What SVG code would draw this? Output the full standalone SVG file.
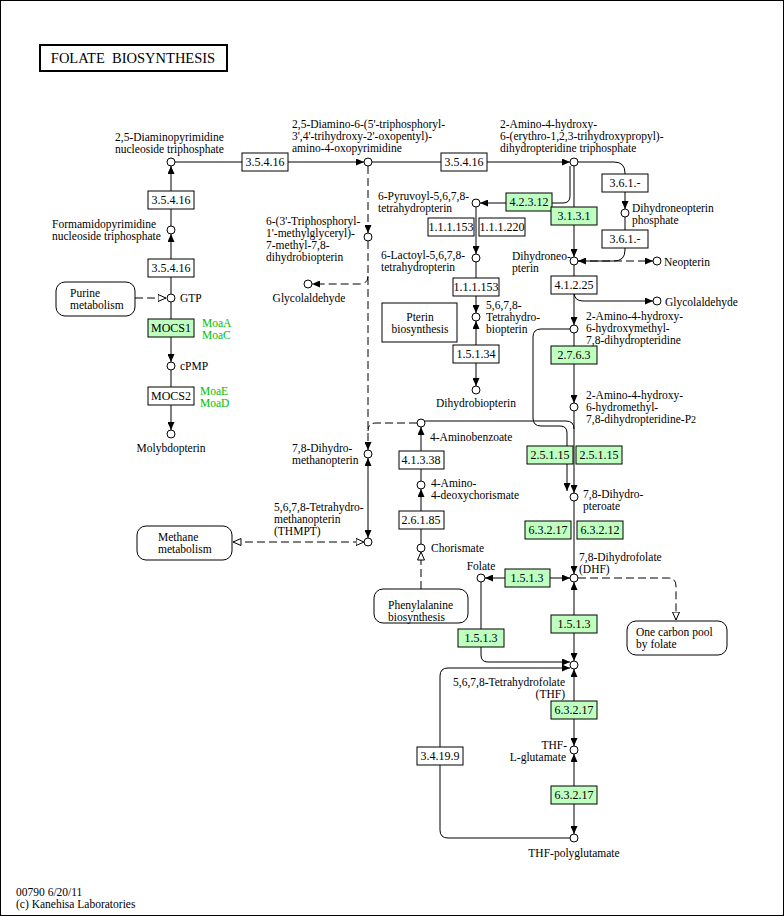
<svg xmlns="http://www.w3.org/2000/svg" width="784" height="916" viewBox="0 0 784 916">
<style>
text{font-family:"Liberation Serif","Times New Roman",serif;font-size:11.5px;fill:#000}
.c{text-anchor:middle}
.r{text-anchor:end}
.gt{fill:#00c000}
.l{fill:none;stroke:#000;stroke-width:1}
.d{stroke-dasharray:8,4}
.n{fill:#fff;stroke:#000;stroke-width:1}
.e{fill:#fff;stroke:#000;stroke-width:1}
.g{fill:#bfffbf}
.m{fill:#fff;stroke:#000;stroke-width:1}
.et{font-size:12px}
</style>
<defs>
<marker id="a" viewBox="0 0 8 7" refX="8" refY="3.5" markerWidth="8" markerHeight="7" markerUnits="userSpaceOnUse" orient="auto-start-reverse"><path d="M0,0 L8,3.5 L0,7 z" fill="#000"/></marker>
<marker id="o" viewBox="0 0 9 8" refX="8.5" refY="4" markerWidth="9" markerHeight="8" markerUnits="userSpaceOnUse" orient="auto-start-reverse"><path d="M0.5,0.5 L8.5,4 L0.5,7.5 z" fill="#fff" stroke="#000" stroke-width="1"/></marker>
</defs>
<rect x="0.5" y="0.5" width="783" height="915" fill="#fff" stroke="#000"/>
<g id="title"><rect x="40" y="45" width="187" height="26" fill="#fff" stroke="#000" stroke-width="2"/><text x="133" y="63" class="c" style="font-size:14.5px" xml:space="preserve">FOLATE  BIOSYNTHESIS</text></g>

<g id="connectors">
<path class="l" d="M175,162 H364" marker-end="url(#a)"/>
<path class="l" d="M171,226 V166" marker-end="url(#a)"/>
<path class="l" d="M171,294 V234" marker-end="url(#a)"/>
<path class="l d" d="M135,298 H166" marker-end="url(#o)"/>
<path class="l" d="M171,302 V362" marker-end="url(#a)"/>
<path class="l" d="M171,370 V430" marker-end="url(#a)"/>
<path class="l d" d="M368,166 V233" marker-end="url(#a)"/>
<path class="l d" d="M368,241 V450" marker-end="url(#a)"/>
<path class="l d" d="M368,276 Q368,284 360,284 H312" marker-end="url(#a)"/>
<path class="l d" d="M417,423 H376 Q368,423 368,431"/>
<path class="l" d="M368,458 V538" marker-start="url(#a)" marker-end="url(#a)"/>
<path class="l d" d="M233,542 H364" marker-start="url(#o)" marker-end="url(#o)"/>
<path class="l" d="M372,162 H570" marker-end="url(#a)"/>
<path class="l" d="M570,166 V196 Q570,203 563,203 H480" marker-end="url(#a)"/>
<path class="l" d="M574,166 V257" marker-end="url(#a)"/>
<path class="l" d="M578,162 H614 Q625,162 625,173 V209" marker-end="url(#a)"/>
<path class="l" d="M625,217 V250 Q625,261 614,261 H578" marker-end="url(#a)"/>
<path class="l d" d="M578,261 H653" marker-end="url(#a)"/>
<path class="l" d="M574,265 V325" marker-end="url(#a)"/>
<path class="l" d="M574,292 Q574,301 583,301 H653" marker-end="url(#a)"/>
<path class="l" d="M574,333 V403" marker-end="url(#a)"/>
<path class="l" d="M574,411 V493" marker-end="url(#a)"/>
<path class="l" d="M425,421 H566 Q574,421 574,429"/>
<path class="l" d="M570,329 H541 Q533,329 533,337 V418 Q533,426 541,426 H560 Q567,426 567,433 V491" marker-end="url(#a)"/>
<path class="l" d="M476,207 V254" marker-end="url(#a)"/>
<path class="l" d="M476,262 V313" marker-end="url(#a)"/>
<path class="l" d="M476,321 V386" marker-start="url(#a)" marker-end="url(#a)"/>
<path class="l" d="M421,481 V427" marker-end="url(#a)"/>
<path class="l" d="M421,544 V489" marker-end="url(#a)"/>
<path class="l d" d="M421,589 V552" marker-end="url(#o)"/>
<path class="l" d="M574,501 V574" marker-end="url(#a)"/>
<path class="l" d="M485,578 H570" marker-start="url(#a)" marker-end="url(#a)"/>
<path class="l d" d="M578,578 H668 Q676,578 676,586 V620" marker-end="url(#o)"/>
<path class="l" d="M574,582 V661" marker-start="url(#a)" marker-end="url(#a)"/>
<path class="l" d="M481,582 V655 Q481,662 488,662 H570" marker-end="url(#a)"/>
<path class="l" d="M570,838 H448 Q440,838 440,830 V676 Q440,668 448,668 H570" marker-end="url(#a)"/>
<path class="l" d="M574,669 V746" marker-start="url(#a)" marker-end="url(#a)"/>
<path class="l" d="M574,754 V834" marker-start="url(#a)" marker-end="url(#a)"/>
</g>

<g id="maps">
<g id="map-purine"><rect class="m" x="56" y="282" width="79" height="34" rx="9"/><text x="70" y="297">Purine</text><text x="70" y="309">metabolism</text></g>
<g id="map-methane"><rect class="m" x="137" y="526" width="95" height="34" rx="9"/><text x="158" y="541">Methane</text><text x="158" y="553">metabolism</text></g>
<g id="map-pterin"><rect class="m" x="382" y="303" width="75" height="39"/><text x="420" y="321" class="c">Pterin</text><text x="420" y="333" class="c">biosynthesis</text></g>
<g id="map-phe"><rect class="m" x="374" y="589" width="94" height="34" rx="9"/><text x="388" y="609">Phenylalanine</text><text x="388" y="621">biosynthesis</text></g>
<g id="map-onecarbon"><rect class="m" x="627" y="621" width="100" height="34" rx="9"/><text x="636" y="636">One carbon pool</text><text x="636" y="648">by folate</text></g>
</g>

<g id="enzymes">
<g id="e1"><rect class="e" x="242" y="153" width="46" height="18"/><text x="265" y="166" class="c et">3.5.4.16</text></g>
<g id="e2"><rect class="e" x="441" y="153" width="46" height="18"/><text x="464" y="166" class="c et">3.5.4.16</text></g>
<g id="e3"><rect class="e" x="148" y="191" width="46" height="18"/><text x="171" y="204" class="c et">3.5.4.16</text></g>
<g id="e4"><rect class="e" x="148" y="259" width="46" height="18"/><text x="171" y="272" class="c et">3.5.4.16</text></g>
<g id="e5"><rect class="e g" x="148" y="319" width="46" height="18"/><text x="171" y="332" class="c et">MOCS1</text><text x="202" y="327" class="gt">MoaA</text><text x="202" y="339" class="gt">MoaC</text></g>
<g id="e6"><rect class="e" x="148" y="387" width="46" height="18"/><text x="171" y="400" class="c et">MOCS2</text><text x="200" y="395" class="gt">MoaE</text><text x="200" y="407" class="gt">MoaD</text></g>
<g id="e7"><rect class="e g" x="506" y="193" width="46" height="18"/><text x="529" y="206" class="c et">4.2.3.12</text></g>
<g id="e8"><rect class="e g" x="551" y="207" width="46" height="18"/><text x="574" y="220" class="c et">3.1.3.1</text></g>
<g id="e9"><rect class="e" x="602" y="174" width="46" height="18"/><text x="625" y="187" class="c et">3.6.1.-</text></g>
<g id="e10"><rect class="e" x="602" y="230" width="46" height="18"/><text x="625" y="243" class="c et">3.6.1.-</text></g>
<g id="e11"><rect class="e" x="428" y="218" width="46" height="18"/><text x="451" y="231" class="c et">1.1.1.153</text></g>
<g id="e12"><rect class="e" x="479" y="218" width="46" height="18"/><text x="502" y="231" class="c et">1.1.1.220</text></g>
<g id="e13"><rect class="e" x="453" y="278" width="46" height="18"/><text x="476" y="291" class="c et">1.1.1.153</text></g>
<g id="e14"><rect class="e" x="453" y="345" width="46" height="18"/><text x="476" y="358" class="c et">1.5.1.34</text></g>
<g id="e15"><rect class="e" x="551" y="276" width="46" height="18"/><text x="574" y="289" class="c et">4.1.2.25</text></g>
<g id="e16"><rect class="e g" x="551" y="346" width="46" height="18"/><text x="574" y="359" class="c et">2.7.6.3</text></g>
<g id="e17"><rect class="e g" x="527" y="446" width="46" height="18"/><text x="550" y="459" class="c et">2.5.1.15</text></g>
<g id="e18"><rect class="e g" x="576" y="446" width="46" height="18"/><text x="599" y="459" class="c et">2.5.1.15</text></g>
<g id="e19"><rect class="e" x="399" y="451" width="45" height="18"/><text x="421" y="464" class="c et">4.1.3.38</text></g>
<g id="e20"><rect class="e" x="399" y="511" width="45" height="18"/><text x="421" y="524" class="c et">2.6.1.85</text></g>
<g id="e21"><rect class="e g" x="525" y="521" width="46" height="18"/><text x="548" y="534" class="c et">6.3.2.17</text></g>
<g id="e22"><rect class="e g" x="577" y="521" width="46" height="18"/><text x="600" y="534" class="c et">6.3.2.12</text></g>
<g id="e23"><rect class="e g" x="505" y="569" width="45" height="18"/><text x="527" y="582" class="c et">1.5.1.3</text></g>
<g id="e24"><rect class="e g" x="551" y="615" width="46" height="18"/><text x="574" y="628" class="c et">1.5.1.3</text></g>
<g id="e25"><rect class="e g" x="458" y="629" width="46" height="18"/><text x="481" y="642" class="c et">1.5.1.3</text></g>
<g id="e26"><rect class="e g" x="551" y="701" width="46" height="18"/><text x="574" y="714" class="c et">6.3.2.17</text></g>
<g id="e27"><rect class="e g" x="551" y="786" width="46" height="18"/><text x="574" y="799" class="c et">6.3.2.17</text></g>
<g id="e28"><rect class="e" x="417" y="747" width="46" height="18"/><text x="440" y="760" class="c et">3.4.19.9</text></g>
</g>

<g id="compounds">
<g id="c1"><circle class="n" cx="171" cy="162" r="4"/><text x="115" y="141">2,5-Diaminopyrimidine</text><text x="115" y="153">nucleoside triphosphate</text></g>
<g id="c2"><circle class="n" cx="171" cy="230" r="4"/><text x="52" y="228">Formamidopyrimidine</text><text x="52" y="240">nucleoside triphosphate</text></g>
<g id="c3"><circle class="n" cx="171" cy="298" r="4"/><text x="180" y="302">GTP</text></g>
<g id="c4"><circle class="n" cx="171" cy="366" r="4"/><text x="180" y="370">cPMP</text></g>
<g id="c5"><circle class="n" cx="171" cy="434" r="4"/><text x="171" y="452" class="c">Molybdopterin</text></g>
<g id="c6"><circle class="n" cx="368" cy="162" r="4"/><text x="292" y="128">2,5-Diamino-6-(5'-triphosphoryl-</text><text x="292" y="140">3',4'-trihydroxy-2'-oxopentyl)-</text><text x="292" y="152">amino-4-oxopyrimidine</text></g>
<g id="c7"><circle class="n" cx="368" cy="237" r="4"/><text x="266" y="225">6-(3'-Triphosphoryl-</text><text x="266" y="237">1'-methylglyceryl)-</text><text x="266" y="249">7-methyl-7,8-</text><text x="266" y="261">dihydrobiopterin</text></g>
<g id="c8"><circle class="n" cx="308" cy="284" r="4"/><text x="309" y="302" class="c">Glycolaldehyde</text></g>
<g id="c9"><circle class="n" cx="368" cy="454" r="4"/><text x="292" y="452">7,8-Dihydro-</text><text x="292" y="464">methanopterin</text></g>
<g id="c10"><circle class="n" cx="368" cy="542" r="4"/><text x="274" y="511">5,6,7,8-Tetrahydro-</text><text x="274" y="523">methanopterin</text><text x="274" y="535">(THMPT)</text></g>
<g id="c11"><circle class="n" cx="574" cy="162" r="4"/><text x="500" y="128">2-Amino-4-hydroxy-</text><text x="500" y="140">6-(erythro-1,2,3-trihydroxypropyl)-</text><text x="500" y="152">dihydropteridine triphosphate</text></g>
<g id="c12"><circle class="n" cx="476" cy="203" r="4"/><text x="378" y="200">6-Pyruvoyl-5,6,7,8-</text><text x="378" y="212">tetrahydropterin</text></g>
<g id="c13"><circle class="n" cx="476" cy="258" r="4"/><text x="381" y="259">6-Lactoyl-5,6,7,8-</text><text x="381" y="271">tetrahydropterin</text></g>
<g id="c14"><circle class="n" cx="476" cy="317" r="4"/><text x="486" y="309">5,6,7,8-</text><text x="486" y="321">Tetrahydro-</text><text x="486" y="333">biopterin</text></g>
<g id="c15"><circle class="n" cx="476" cy="390" r="4"/><text x="476" y="407" class="c">Dihydrobiopterin</text></g>
<g id="c16"><circle class="n" cx="625" cy="213" r="4"/><text x="632" y="212">Dihydroneopterin</text><text x="632" y="224">phosphate</text></g>
<g id="c17"><circle class="n" cx="574" cy="261" r="4"/><text x="512" y="260">Dihydroneo-</text><text x="512" y="272">pterin</text></g>
<g id="c18"><circle class="n" cx="657" cy="261" r="4"/><text x="664" y="266">Neopterin</text></g>
<g id="c19"><circle class="n" cx="657" cy="301" r="4"/><text x="665" y="306">Glycolaldehyde</text></g>
<g id="c20"><circle class="n" cx="574" cy="329" r="4"/><text x="586" y="320">2-Amino-4-hydroxy-</text><text x="586" y="332">6-hydroxymethyl-</text><text x="586" y="344">7,8-dihydropteridine</text></g>
<g id="c21"><circle class="n" cx="574" cy="407" r="4"/><text x="586" y="399">2-Amino-4-hydroxy-</text><text x="586" y="411">6-hydromethyl-</text><text x="586" y="423">7,8-dihydropteridine-P<tspan style="font-size:10px">2</tspan></text></g>
<g id="c22"><circle class="n" cx="421" cy="423" r="4"/><text x="430" y="441">4-Aminobenzoate</text></g>
<g id="c23"><circle class="n" cx="421" cy="485" r="4"/><text x="431" y="487">4-Amino-</text><text x="431" y="499">4-deoxychorismate</text></g>
<g id="c24"><circle class="n" cx="421" cy="548" r="4"/><text x="431" y="552">Chorismate</text></g>
<g id="c25"><circle class="n" cx="574" cy="497" r="4"/><text x="583" y="498">7,8-Dihydro-</text><text x="583" y="510">pteroate</text></g>
<g id="c26"><circle class="n" cx="574" cy="578" r="4"/><text x="579" y="561">7,8-Dihydrofolate</text><text x="579" y="573">(DHF)</text></g>
<g id="c27"><circle class="n" cx="481" cy="578" r="4"/><text x="481" y="570" class="c">Folate</text></g>
<g id="c28"><circle class="n" cx="574" cy="665" r="4"/><text x="565" y="686" class="r">5,6,7,8-Tetrahydrofolate</text><text x="565" y="698" class="r">(THF)</text></g>
<g id="c29"><circle class="n" cx="574" cy="750" r="4"/><text x="567" y="749" class="r">THF-</text><text x="566" y="761" class="r">L-glutamate</text></g>
<g id="c30"><circle class="n" cx="574" cy="838" r="4"/><text x="574" y="857" class="c">THF-polyglutamate</text></g>
</g>

<g id="footer"><text x="16" y="896">00790 6/20/11</text><text x="16" y="908">(c) Kanehisa Laboratories</text></g>
</svg>
